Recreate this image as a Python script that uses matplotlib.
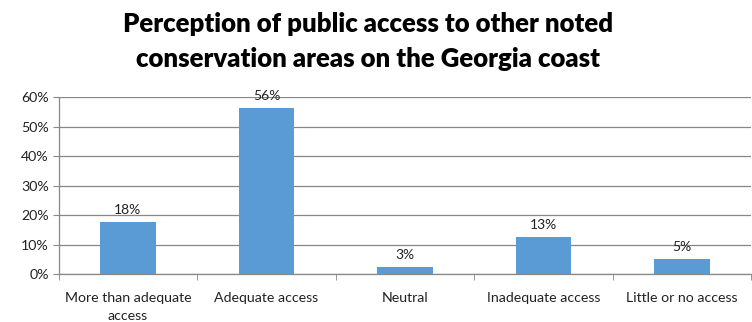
import matplotlib
matplotlib.use("Agg")
import matplotlib.pyplot as plt
import numpy as np
from matplotlib.ticker import FixedLocator, PercentFormatter

categories = ["More than adequate\naccess", "Adequate access", "Neutral",
              "Inadequate access", "Little or no access"]
values = [17.8, 56.4, 2.5, 12.7, 5.1]
labels = ["18%", "56%", "3%", "13%", "5%"]
title = "Perception of public access to other noted\nconservation areas on the Georgia coast"

plt.rcParams['font.family'] = ['Lato', 'DejaVu Sans']

fig = plt.figure(figsize=(7.52, 3.22), dpi=100)
ax = fig.add_axes([0.078, 0.148, 0.921, 0.55])

x = np.arange(len(categories))
ax.bar(x, values, width=0.4, color="#5B9BD5", zorder=3)
for xi, v, lab in zip(x, values, labels):
    ax.text(xi, v + 2.0, lab, ha="center", va="bottom", fontsize=10, color="#222222")

ax.set_xlim(-0.5, len(categories) - 0.5)
ax.set_ylim(0, 60)
ax.set_yticks(np.arange(0, 61, 10))
ax.yaxis.set_major_formatter(PercentFormatter(decimals=0))
ax.set_xticks(x)
ax.set_xticklabels(categories, fontsize=10.2, color="#222222", linespacing=1.6)
ax.xaxis.set_minor_locator(FixedLocator(np.arange(-0.5, len(categories), 1)))
ax.tick_params(axis="x", which="major", length=0, pad=13)
ax.tick_params(axis="x", which="minor", length=4, color="#878787")
ax.tick_params(axis="y", length=4, color="#878787", labelsize=10.2, labelcolor="#222222", pad=3)

ax.grid(axis="y", color="#878787", linewidth=0.9, zorder=0)
for s in ["top", "right"]:
    ax.spines[s].set_visible(False)
for s in ["left", "bottom"]:
    ax.spines[s].set_color("#878787")
    ax.spines[s].set_linewidth(0.9)

fig.text(0.49, 1 - 32 / 322, title.split("\n")[0], ha="center", va="baseline",
         fontsize=18.5, fontweight="heavy", color="#000000")
fig.text(0.49, 1 - 67 / 322, title.split("\n")[1], ha="center", va="baseline",
         fontsize=18.5, fontweight="heavy", color="#000000")

fig.savefig("out.png", dpi=100)
